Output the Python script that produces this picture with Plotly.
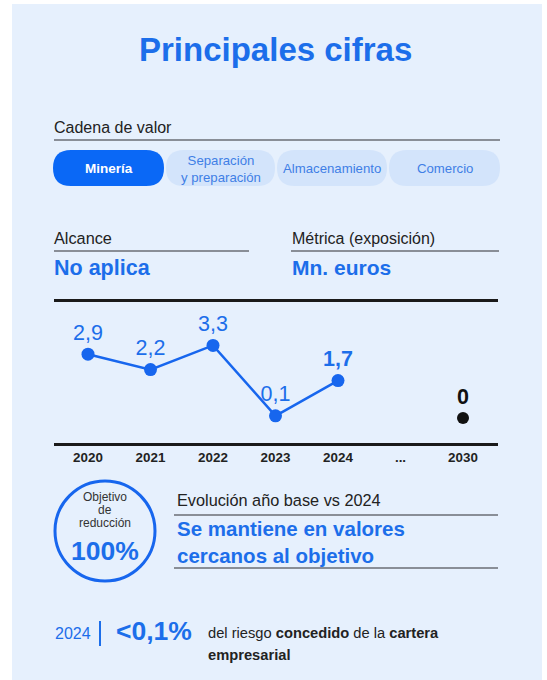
import plotly.graph_objects as go

# ---------------- data ----------------
categories = ["2020", "2021", "2022", "2023", "2024", "...", "2030"]
hist_years = ["2020", "2021", "2022", "2023", "2024"]
hist_values = [2.9, 2.2, 3.3, 0.1, 1.7]
target_years = ["...", "2030"]
target_values = [None, 0]
chain_steps = ["Minería", "Separación<br>y preparación", "Almacenamiento", "Comercio"]
active_step = "Minería"

W, H = 547, 680
BLUE = "#1C6EEA"
LINE_BLUE = "#1766EE"
FONT = "Liberation Sans, Arial, sans-serif"


def px(x):
    return x / W


def py(y):
    return 1 - y / H


def rrect(x0, y0, x1, y1, r):
    pts = [
        f"M {px(x0 + r)},{py(y0)}",
        f"L {px(x1 - r)},{py(y0)}",
        f"Q {px(x1)},{py(y0)} {px(x1)},{py(y0 + r)}",
        f"L {px(x1)},{py(y1 - r)}",
        f"Q {px(x1)},{py(y1)} {px(x1 - r)},{py(y1)}",
        f"L {px(x0 + r)},{py(y1)}",
        f"Q {px(x0)},{py(y1)} {px(x0)},{py(y1 - r)}",
        f"L {px(x0)},{py(y0 + r)}",
        f"Q {px(x0)},{py(y0)} {px(x0 + r)},{py(y0)}",
        "Z",
    ]
    return " ".join(pts)


fig = go.Figure()

# historical series
hist_labels = [f"{v:.1f}".replace(".", ",") for v in hist_values]
hist_labels[-1] = f"<b>{hist_labels[-1]}</b>"
fig.add_trace(go.Scatter(
    x=hist_years, y=hist_values, mode="lines+markers+text",
    line=dict(color=LINE_BLUE, width=2.5),
    marker=dict(color=LINE_BLUE, size=13),
    text=hist_labels, textposition="top center",
    textfont=dict(size=21.5, color=BLUE, family=FONT),
    cliponaxis=False, hoverinfo="skip", showlegend=False,
))
# target
fig.add_trace(go.Scatter(
    x=target_years, y=target_values, mode="markers+text",
    marker=dict(color="#111111", size=12),
    text=["", "<b>" + str(target_values[-1]) + "</b>"], textposition="top center",
    textfont=dict(size=21.5, color="#111111", family=FONT),
    cliponaxis=False, hoverinfo="skip", showlegend=False,
))

shapes = []
ann = []

# panel background
shapes.append(dict(type="rect", xref="paper", yref="paper", x0=px(12), x1=px(542), y0=py(4), y1=py(680),
                   fillcolor="#E6F0FD", line=dict(width=0), layer="below"))


def hline(x0, x1, y, color="#6A6E75", width=1.5):
    shapes.append(dict(type="line", xref="paper", yref="paper", x0=px(x0), x1=px(x1), y0=py(y), y1=py(y),
                       line=dict(color=color, width=width)))


def text(x, y, s, size, color="#222222", anchor="left", bold=False):
    ann.append(dict(xref="paper", yref="paper", x=px(x), y=py(y), text=(f"<b>{s}</b>" if bold else s),
                    showarrow=False, xanchor=anchor, yanchor="middle", align=anchor if anchor != "center" else "center",
                    font=dict(size=size, color=color, family=FONT)))


# title
text(275, 50, "Principales cifras", 33, BLUE, "center", True)

# value chain
text(52, 127, "Cadena de valor", 16)
hline(54, 500, 140)
pill_bounds = [(53, 164), (166, 275), (277, 387), (389, 500)]
for (x0, x1), label in zip(pill_bounds, chain_steps):
    active = label == active_step
    shapes.append(dict(type="path", xref="paper", yref="paper", path=rrect(x0, 150, x1, 186, 18),
                       fillcolor="#0A68F6" if active else "#D3E4FB", line=dict(width=0), layer="below"))
    ann.append(dict(xref="paper", yref="paper", x=px((x0 + x1) / 2), y=py(168.5),
                    text=(f"<b>{label}</b>" if active else label), showarrow=False,
                    xanchor="center", yanchor="middle",
                    font=dict(size=13.5 if active else 13.2, color="white" if active else "#3F7FE6", family=FONT)))

# scope / metric
text(52, 238, "Alcance", 16.3)
hline(54, 249, 251)
text(52, 268, "No aplica", 21.5, BLUE, bold=True)
text(290, 239, "Métrica (exposición)", 16)
hline(291, 499, 251)
text(290, 268, "Mn. euros", 21, BLUE, bold=True)

# reduction circle
shapes.append(dict(type="circle", xref="paper", yref="paper", x0=px(55), x1=px(155), y0=py(481), y1=py(581),
                   line=dict(color=LINE_BLUE, width=3), fillcolor="rgba(0,0,0,0)"))
text(105, 497, "Objetivo", 12, "#333333", "center")
text(105, 510, "de", 12, "#333333", "center")
text(105, 523, "reducción", 12, "#333333", "center")
text(105, 551, "100%", 26.5, BLUE, "center", True)

text(175, 500, "Evolución año base vs 2024", 16.3)
hline(174, 498, 515)
text(175, 542, "Se mantiene en valores<br>cercanos al objetivo", 20.5, BLUE, bold=True)
hline(174, 498, 568)

# footer
text(53, 633, "2024", 16, BLUE)
shapes.append(dict(type="line", xref="paper", yref="paper", x0=px(100), x1=px(100), y0=py(621), y1=py(646),
                   line=dict(color=BLUE, width=2)))
text(114, 631, "&lt;0,1%", 26.5, BLUE, bold=True)
text(206, 633, "del riesgo <b>concedido</b> de la <b>cartera</b>", 14.7, "#222222")
text(206, 655, "<b>empresarial</b>", 14.7, "#222222")

# axes geometry: plot area 54..498 px horizontally, 302..443 px vertically
step = (463 - 88) / 6
xr = [-(88 - 54) / step, 6 + (498 - 463) / step]
yscale = 22.0
yr = [-(443 - 418) / yscale, (418 - 302) / yscale]

fig.update_layout(
    width=W, height=H,
    margin=dict(l=0, r=0, t=0, b=0),
    paper_bgcolor="white", plot_bgcolor="rgba(0,0,0,0)",
    font=dict(family=FONT),
    shapes=shapes, annotations=ann,
    xaxis=dict(domain=[px(54), px(498)], type="category", categoryorder="array", categoryarray=categories,
               range=xr, showline=True, mirror=True, linecolor="#1A1A1A", linewidth=2.5,
               showgrid=False, zeroline=False, ticks="", fixedrange=True,
               tickfont=dict(size=13.4, color="#222222", family=FONT, weight="bold")),
    yaxis=dict(domain=[py(443), py(302)], range=yr, visible=False, fixedrange=True),
)

fig.write_html("out.html", config={"displayModeBar": False},
               post_script="document.body.style.margin='0';document.body.style.overflow='hidden';")
